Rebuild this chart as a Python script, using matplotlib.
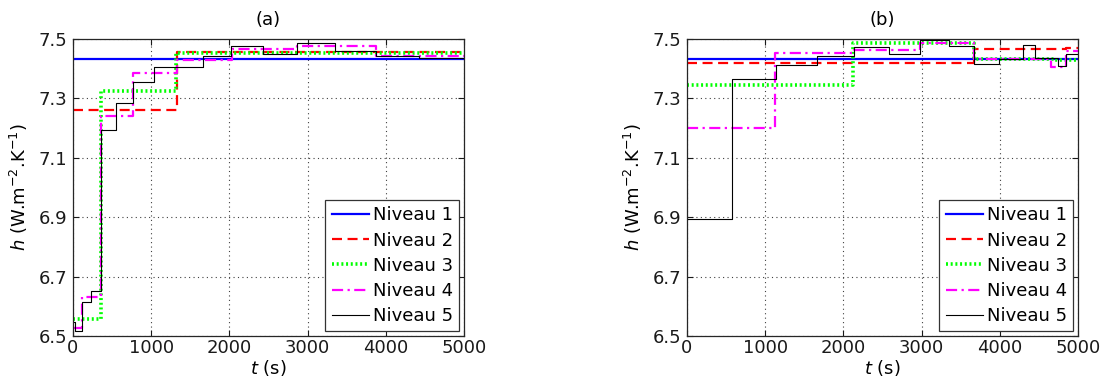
import matplotlib
matplotlib.use("Agg")
import matplotlib.pyplot as plt

# ---------------- data ----------------
labels = ["Niveau 1", "Niveau 2", "Niveau 3", "Niveau 4", "Niveau 5"]
panel_titles = ["(a)", "(b)"]

# Panel (a): step change times (s) and h values
a_t1 = [0, 5000]
a_h1 = [7.433, 7.433]
a_t2 = [0, 1330, 5000]
a_h2 = [7.261, 7.457, 7.457]
a_t3 = [0, 360, 1320, 5000]
a_h3 = [6.557, 7.326, 7.452, 7.452]
a_t4 = [0, 115, 363, 770, 1330, 2030, 2870, 3870, 5000]
a_h4 = [6.527, 6.632, 7.241, 7.387, 7.428, 7.466, 7.477, 7.442, 7.442]
a_t5 = [0, 25, 115, 227, 363, 551, 765, 1030, 1660, 2020, 2430, 2870, 3350, 3870, 4420, 5000]
a_h5 = [6.548, 6.517, 6.615, 6.653, 7.194, 7.283, 7.354, 7.407, 7.442, 7.476, 7.449,
        7.485, 7.461, 7.443, 7.436, 7.436]

# Panel (b)
b_t1 = [0, 5000]
b_h1 = [7.433, 7.433]
b_t2 = [0, 3667, 4850, 5000]
b_h2 = [7.420, 7.466, 7.470, 7.470]
b_t3 = [0, 2124, 3667, 4700, 5000]
b_h3 = [7.345, 7.485, 7.433, 7.428, 7.428]
b_t4 = [0, 1130, 2130, 2978, 3667, 4650, 4850, 5000]
b_h4 = [7.201, 7.454, 7.463, 7.488, 7.433, 7.405, 7.460, 7.460]
b_t5 = [0, 581, 1141, 1662, 2130, 2581, 2978, 3350, 3667, 3990, 4300, 4450, 4750, 4850, 5000]
b_h5 = [6.893, 7.366, 7.412, 7.443, 7.474, 7.449, 7.497, 7.478, 7.415, 7.433, 7.480,
        7.435, 7.410, 7.450, 7.450]

x_ticks = [0, 1000, 2000, 3000, 4000, 5000]
y_ticks = [6.5, 6.7, 6.9, 7.1, 7.3, 7.5]

# ---------------- styles ----------------
styles = [
    dict(color="#0000FF", lw=1.6, linestyle="-"),
    dict(color="#FF0000", lw=1.6, linestyle=(0, (4.5, 2.5))),
    dict(color="#00FF00", lw=2.6, linestyle=(0, (0.55, 0.75))),
    dict(color="#FF00FF", lw=1.6, linestyle=(0, (5, 2, 1, 2))),
    dict(color="#000000", lw=0.8, linestyle="-"),
]

plt.rcParams["font.family"] = ["DejaVu Sans"]
plt.rcParams["mathtext.fontset"] = "dejavusans"
FS = 13

fig = plt.figure(figsize=(11.05, 3.85), dpi=100)
W, H = 1105, 385
positions = [
    [73 / W, 1 - 336 / H, (464 - 73) / W, (336 - 39) / H],
    [687 / W, 1 - 336 / H, (1078 - 687) / W, (336 - 39) / H],
]

data = [
    [(a_t1, a_h1), (a_t2, a_h2), (a_t3, a_h3), (a_t4, a_h4), (a_t5, a_h5)],
    [(b_t1, b_h1), (b_t2, b_h2), (b_t3, b_h3), (b_t4, b_h4), (b_t5, b_h5)],
]

for pi, pos in enumerate(positions):
    ax = fig.add_axes(pos)
    for (t, h), st, lab in zip(data[pi], styles, labels):
        ax.plot(t, h, drawstyle="steps-post", label=lab, **st)
    ax.set_xlim(0, 5000)
    ax.set_ylim(6.5, 7.5)
    ax.set_xticks(x_ticks)
    ax.set_yticks(y_ticks)
    ax.set_yticklabels([f"{v:.1f}" for v in y_ticks])
    ax.tick_params(direction="in", top=True, right=True, length=4, width=0.8,
                   labelsize=FS, colors="0.1")
    ax.tick_params(axis="x", pad=2)
    ax.tick_params(axis="y", pad=4)
    ax.grid(True, linestyle=(0, (1, 3)), color="0.25", linewidth=0.8)
    for sp in ax.spines.values():
        sp.set_color("0.15")
        sp.set_linewidth(0.9)
    ax.set_xlabel(r"$t$ (s)", fontsize=FS, labelpad=1)
    ax.set_ylabel(r"$h$ (W.m$^{-2}$.K$^{-1}$)", fontsize=FS, labelpad=6)
    ax.set_title(panel_titles[pi], fontsize=FS, pad=10)
    leg = ax.legend(loc="lower right", fontsize=FS, fancybox=False, framealpha=1,
                    edgecolor="0.2", borderaxespad=0.25, handlelength=2.1,
                    handletextpad=0.2, labelspacing=0.4, borderpad=0.35)
    leg.get_frame().set_linewidth(0.9)

fig.savefig("out.png", dpi=100)
